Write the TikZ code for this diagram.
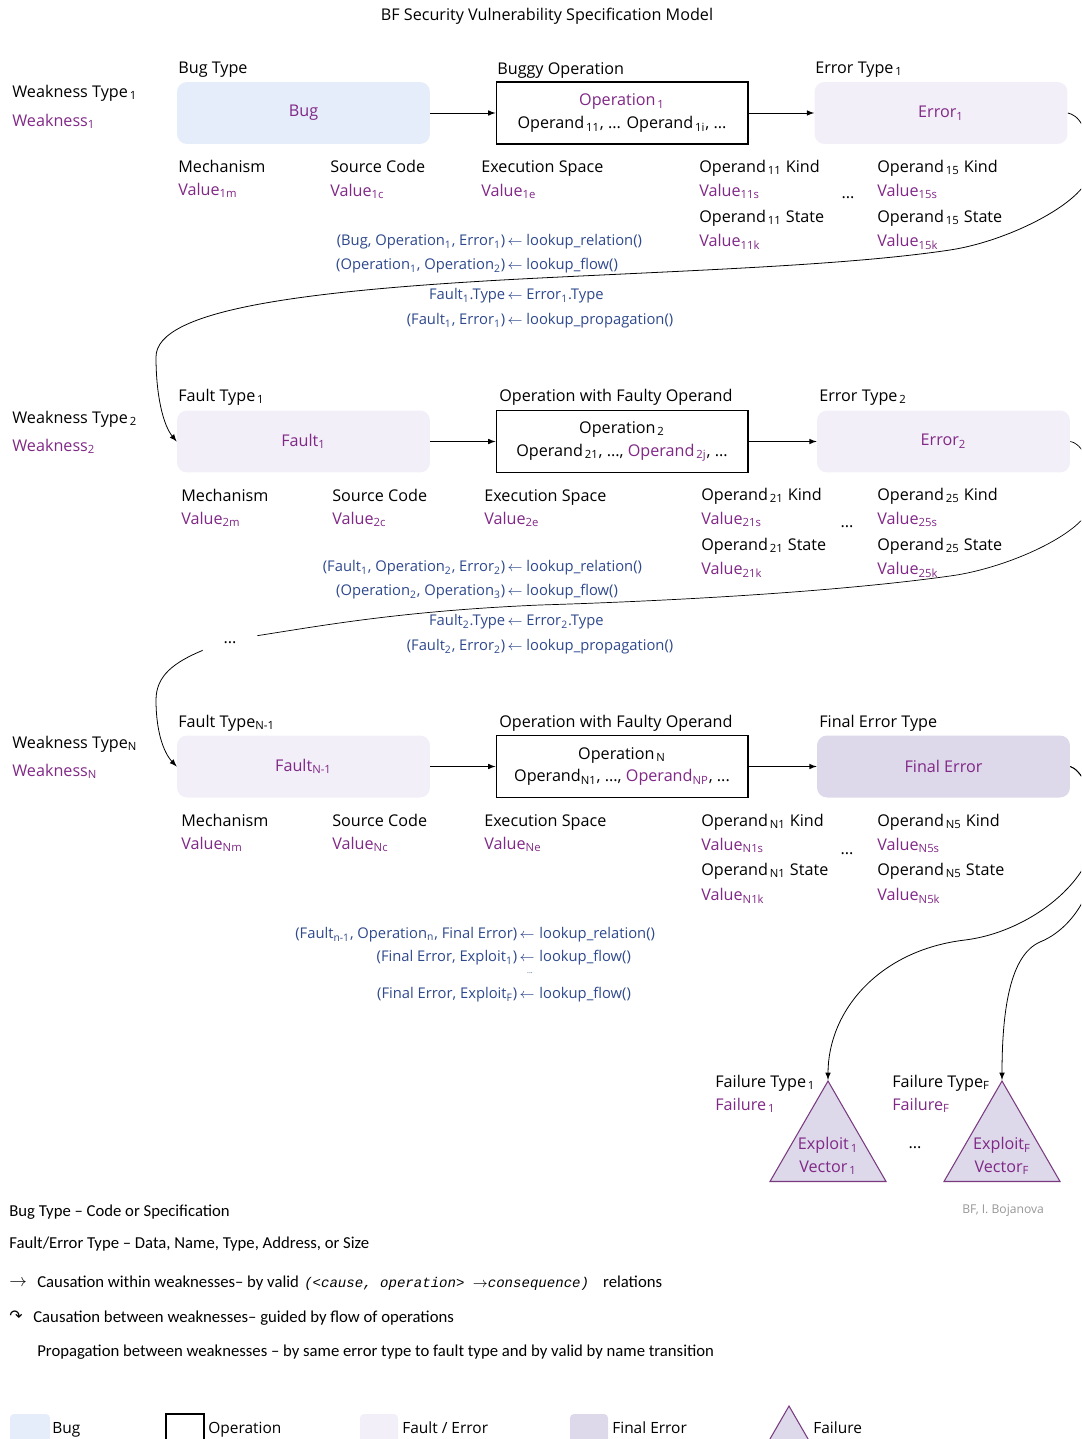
\documentclass[tikz,border=0pt]{standalone}
\usepackage{fontspec}
\setmainfont{Open Sans}
\newfontfamily\legendfont{Carlito}
\newfontfamily\symfont{DejaVu Sans}
\newfontfamily\codefont{Liberation Mono}
\usetikzlibrary{shapes.geometric}

\definecolor{wpurple}{RGB}{128,40,134}
\definecolor{relblue}{RGB}{46,72,140}
\definecolor{bugfill}{RGB}{229,236,250}
\definecolor{faultfill}{RGB}{242,239,248}
\definecolor{finalfill}{RGB}{221,216,234}
\definecolor{tripurple}{RGB}{122,58,128}
\definecolor{credit}{RGB}{150,150,150}

\tikzset{
  txt/.style={anchor=west,inner sep=0pt,text height=6.8pt,text depth=1pt,font=\fontsize{9.2}{11}\selectfont},
  val/.style={txt,text=wpurple},
  rel/.style={inner sep=0pt,text height=6.2pt,text depth=1pt,text=relblue,font=\fontsize{8.4}{10}\selectfont},
  bugbox/.style={rounded corners=0.2cm,fill=bugfill,minimum width=5.06cm,minimum height=1.24cm,
    text=wpurple,font=\fontsize{9.2}{11}\selectfont},
  faultbox/.style={bugbox,fill=faultfill},
  finalbox/.style={bugbox,fill=finalfill},
  opbox/.style={draw=black,line width=0.6pt,fill=white,minimum width=5.04cm,minimum height=1.24cm,
    align=center,font=\fontsize{9.2}{13}\selectfont},
  flow/.style={->,>=latex,line width=0.45pt},
  leg/.style={anchor=west,inner sep=0pt,text height=6.8pt,text depth=1pt,font=\legendfont\fontsize{9.5}{11}\selectfont},
  failtri/.style={regular polygon,regular polygon sides=3,draw=tripurple,line width=0.6pt,
    fill=finalfill,minimum size=2.68cm,inner sep=0pt},
}

\begin{document}
\begin{tikzpicture}[x=0.02cm,y=-0.02cm]
  \useasboundingbox (0,0) rectangle (1081,1439);
  \clip (0,0) rectangle (1081,1439);

  \node[txt,anchor=center] (title) at (547,15) {BF Security Vulnerability Specification Model};

  % weakness 1
  \node[txt] (wt1) at (12,92) {Weakness Type\textsubscript{\,1}};
  \node[val] (w1) at (12,121) {Weakness\textsubscript{1}};
  \node[txt] (bugtype) at (178,68) {Bug Type};
  \node[txt] (buggyop) at (497,69) {Buggy Operation};
  \node[txt] (errtype1) at (815,68) {Error Type\textsubscript{\,1}};
  \node[bugbox] (bug) at (303.5,113) {Bug};
  \node[opbox] (op1) at (622,113) {\textcolor{wpurple}{Operation\textsubscript{\,1}}\\Operand\textsubscript{\,11}, ... Operand\textsubscript{\,1i}, ...};
  \node[faultbox] (err1) at (941,113) {Error\textsubscript{1}};

  \node[txt] (mech1) at (178,167) {Mechanism};
  \node[val] (val1m) at (178,190) {Value\textsubscript{1m}};
  \node[txt] (src1) at (330,167) {Source Code};
  \node[val] (val1c) at (330,191) {Value\textsubscript{1c}};
  \node[txt] (exe1) at (481,167) {Execution Space};
  \node[val] (val1e) at (481,191) {Value\textsubscript{1e}};
  \node[txt] (kind11) at (699,167) {Operand\textsubscript{\,11} Kind};
  \node[val] (val11s) at (699,191) {Value\textsubscript{11s}};
  \node[txt] (state11) at (699,217) {Operand\textsubscript{\,11} State};
  \node[val] (val11k) at (699,241) {Value\textsubscript{11k}};
  \node[txt,anchor=center] (dots1) at (848,193) {...};
  \node[txt] (kind15) at (877,167) {Operand\textsubscript{\,15} Kind};
  \node[val] (val15s) at (877,191) {Value\textsubscript{15s}};
  \node[txt] (state15) at (877,217) {Operand\textsubscript{\,15} State};
  \node[val] (val15k) at (877,241) {Value\textsubscript{15k}};

  \node[rel,anchor=east] (r1a) at (523,241) {(Bug, Operation\textsubscript{1}, Error\textsubscript{1})\,$\leftarrow$};
  \node[rel,anchor=west] (r1b) at (526,241) {lookup\_relation()};
  \node[rel,anchor=east] (r2a) at (523,265) {(Operation\textsubscript{1}, Operation\textsubscript{2})\,$\leftarrow$};
  \node[rel,anchor=west] (r2b) at (526,265) {lookup\_flow()};
  \node[rel,anchor=east] (r3a) at (523,295) {Fault\textsubscript{1}.Type\,$\leftarrow$};
  \node[rel,anchor=west] (r3b) at (526,295) {Error\textsubscript{1}.Type};
  \node[rel,anchor=east] (r4a) at (523,320) {(Fault\textsubscript{1}, Error\textsubscript{1})\,$\leftarrow$};
  \node[rel,anchor=west] (r4b) at (526,320) {lookup\_propagation()};

  % weakness 2
  \node[txt] (wt2) at (12,418) {Weakness Type\textsubscript{\,2}};
  \node[val] (w2) at (12,446) {Weakness\textsubscript{2}};
  \node[txt] (faulttype1) at (178,396) {Fault Type\textsubscript{\,1}};
  \node[txt] (faultyop2) at (499,396) {Operation with Faulty Operand};
  \node[txt] (errtype2) at (819,396) {Error Type\textsubscript{\,2}};
  \node[faultbox] (fault1) at (303.5,441.5) {Fault\textsubscript{1}};
  \node[opbox] (op2) at (622,441.5) {Operation\textsubscript{\,2}\\Operand\textsubscript{\,21}, ..., \textcolor{wpurple}{Operand\textsubscript{\,2j}}, ...};
  \node[faultbox] (err2) at (943.5,441.5) {Error\textsubscript{2}};

  \node[txt] (mech2) at (181,496) {Mechanism};
  \node[val] (val2m) at (181,519) {Value\textsubscript{2m}};
  \node[txt] (src2) at (332,496) {Source Code};
  \node[val] (val2c) at (332,519) {Value\textsubscript{2c}};
  \node[txt] (exe2) at (484,496) {Execution Space};
  \node[val] (val2e) at (484,519) {Value\textsubscript{2e}};
  \node[txt] (kind21) at (701,495) {Operand\textsubscript{\,21} Kind};
  \node[val] (val21s) at (701,519) {Value\textsubscript{21s}};
  \node[txt] (state21) at (701,545) {Operand\textsubscript{\,21} State};
  \node[val] (val21k) at (701,569) {Value\textsubscript{21k}};
  \node[txt,anchor=center] (dots2) at (847,522) {...};
  \node[txt] (kind25) at (877,495) {Operand\textsubscript{\,25} Kind};
  \node[val] (val25s) at (877,519) {Value\textsubscript{25s}};
  \node[txt] (state25) at (877,545) {Operand\textsubscript{\,25} State};
  \node[val] (val25k) at (877,569) {Value\textsubscript{25k}};

  \node[rel,anchor=east] (r5a) at (523,567) {(Fault\textsubscript{1}, Operation\textsubscript{2}, Error\textsubscript{2})\,$\leftarrow$};
  \node[rel,anchor=west] (r5b) at (526,567) {lookup\_relation()};
  \node[rel,anchor=east] (r6a) at (523,591) {(Operation\textsubscript{2}, Operation\textsubscript{3})\,$\leftarrow$};
  \node[rel,anchor=west] (r6b) at (526,591) {lookup\_flow()};
  \node[rel,anchor=east] (r7a) at (523,621) {Fault\textsubscript{2}.Type\,$\leftarrow$};
  \node[rel,anchor=west] (r7b) at (526,621) {Error\textsubscript{2}.Type};
  \node[rel,anchor=east] (r8a) at (523,646) {(Fault\textsubscript{2}, Error\textsubscript{2})\,$\leftarrow$};
  \node[rel,anchor=west] (r8b) at (526,646) {lookup\_propagation()};

  \node[txt,anchor=center,minimum width=1.08cm,minimum height=0.28cm,text height=,text depth=] (dotsflow) at (230,643) {...};

  % weakness N
  \node[txt] (wtn) at (12,743) {Weakness Type\textsubscript{N}};
  \node[val] (wn) at (12,771) {Weakness\textsubscript{N}};
  \node[txt] (faulttypen) at (178,722) {Fault Type\textsubscript{N-1}};
  \node[txt] (faultyopn) at (499,722) {Operation with Faulty Operand};
  \node[txt] (finaltype) at (819,722) {Final Error Type};
  \node[faultbox] (faultn) at (303.5,766.5) {Fault\textsubscript{N-1}};
  \node[opbox] (opn) at (622,766.5) {Operation\textsubscript{\,N}\\Operand\textsubscript{N1}, ..., \textcolor{wpurple}{Operand\textsubscript{NP}}, ...};
  \node[finalbox] (ferr) at (943.5,766.5) {Final Error};

  \node[txt] (mechn) at (181,821) {Mechanism};
  \node[val] (valnm) at (181,844) {Value\textsubscript{Nm}};
  \node[txt] (srcn) at (332,821) {Source Code};
  \node[val] (valnc) at (332,844) {Value\textsubscript{Nc}};
  \node[txt] (exen) at (484,821) {Execution Space};
  \node[val] (valne) at (484,844) {Value\textsubscript{Ne}};
  \node[txt] (kindn1) at (701,821) {Operand\textsubscript{\,N1} Kind};
  \node[val] (valn1s) at (701,845) {Value\textsubscript{N1s}};
  \node[txt] (staten1) at (701,870) {Operand\textsubscript{\,N1} State};
  \node[val] (valn1k) at (701,895) {Value\textsubscript{N1k}};
  \node[txt,anchor=center] (dotsn) at (847,849) {...};
  \node[txt] (kindn5) at (877,821) {Operand\textsubscript{\,N5} Kind};
  \node[val] (valn5s) at (877,845) {Value\textsubscript{N5s}};
  \node[txt] (staten5) at (877,870) {Operand\textsubscript{\,N5} State};
  \node[val] (valn5k) at (877,895) {Value\textsubscript{N5k}};

  \node[rel,anchor=east] (r9a) at (535,934) {(Fault\textsubscript{n-1}, Operation\textsubscript{n}, Final Error)\,$\leftarrow$};
  \node[rel,anchor=west] (r9b) at (539,934) {lookup\_relation()};
  \node[rel,anchor=east] (r10a) at (535,957) {(Final Error, Exploit\textsubscript{1})\,$\leftarrow$};
  \node[rel,anchor=west] (r10b) at (539,957) {lookup\_flow()};
  \node[rel,anchor=center,text height=,text depth=,font=\fontsize{4}{5}\selectfont] (r11) at (530,973) {...};
  \node[rel,anchor=east] (r12a) at (535,994) {(Final Error, Exploit\textsubscript{F})\,$\leftarrow$};
  \node[rel,anchor=west] (r12b) at (539,994) {lookup\_flow()};

  % failures
  \node[failtri] (tri1) at (828,1148) {};
  \node[failtri] (trif) at (1002,1148) {};
  \node[val,anchor=center,align=center,text height=,text depth=,font=\fontsize{9.2}{13}\selectfont] (expl1) at (828,1156) {Exploit\textsubscript{\,1}\\Vector\textsubscript{\,1}};
  \node[val,anchor=center,align=center,text height=,text depth=,font=\fontsize{9.2}{13}\selectfont] (explf) at (1002,1156) {Exploit\textsubscript{F}\\Vector\textsubscript{F}};
  \node[txt] (failtype1) at (715,1082) {Failure Type\textsubscript{\,1}};
  \node[val] (fail1) at (715,1105) {Failure\textsubscript{\,1}};
  \node[txt] (failtypef) at (892,1082) {Failure Type\textsubscript{F}};
  \node[val] (failf) at (892,1105) {Failure\textsubscript{F}};
  \node[txt,anchor=center] (dotsf) at (915,1143) {...};
  \node[txt,text=credit,font=\fontsize{6.9}{8}\selectfont] (credit) at (962,1208) {BF, I. Bojanova};

  % connectors
  \draw[flow] (bug) -- (op1);
  \draw[flow] (op1) -- (err1);
  \draw[flow] (fault1) -- (op2);
  \draw[flow] (op2) -- (err2);
  \draw[flow] (faultn) -- (opn);
  \draw[flow] (opn) -- (ferr);

  \draw[flow] (err1.east) .. controls (1077,115) and (1090,125) .. (1090,170)
    .. controls (1090,200) and (1010,241) .. (950,250)
    .. controls (850,265) and (700,270) .. (540,278)
    .. controls (300,290) and (156,310) .. (156,357)
    .. controls (156,395) and (163,425) .. (fault1.west);
  \draw (err2.east) .. controls (1079,443) and (1092,455) .. (1092,500)
    .. controls (1092,530) and (1010,568) .. (950,576)
    .. controls (850,590) and (700,600) .. (540,605)
    .. controls (400,611) and (320,626) .. (dotsflow.north east);
  \draw[flow] (dotsflow.south west) .. controls (175,662) and (156,675) .. (156,700)
    .. controls (156,730) and (163,752) .. (faultn.west);

  \draw[flow] (ferr.east) .. controls (1079,769) and (1095,790) .. (1095,830)
    .. controls (1095,880) and (1030,932) .. (965,940)
    .. controls (880,950) and (828,1010) .. (tri1.corner 1);
  \draw[flow] (ferr.east) .. controls (1079,769) and (1097,790) .. (1097,840)
    .. controls (1097,900) and (1065,932) .. (1040,942)
    .. controls (1010,955) and (1002,1010) .. (trif.corner 1);

  % legend
  \node[leg] (lg1) at (9,1211) {Bug Type – Code or Specification};
  \node[leg] (lg2) at (9,1243) {Fault/Error Type – Data, Name, Type, Address, or Size};
  \node[leg,font=\fontsize{10}{11}\selectfont] (lgarrow) at (9,1281) {$\rightarrow$};
  \node[leg] (lg3) at (37,1282) {Causation within weaknesses– by valid\hspace{3pt}{\codefont\itshape\fontsize{8}{9}\selectfont (<cause, operation> $\rightarrow$consequence)}\hspace{8pt}relations};
  \node[leg,font=\symfont\fontsize{9}{10}\selectfont] (lgcurve) at (9,1316) {↷};
  \node[leg] (lg4) at (33,1317) {Causation between weaknesses– guided by flow of operations};
  \node[leg] (lg5) at (37,1351) {Propagation between weaknesses – by same error type to fault type and by valid by name transition};

  \node[bugbox,minimum width=0.8cm,minimum height=0.8cm,rounded corners=0.08cm] (keybug) at (30,1434) {};
  \node[txt,font=\fontsize{8.8}{10}\selectfont] (keybugt) at (52,1428) {Bug};
  \node[draw=black,line width=0.6pt,minimum width=0.76cm,minimum height=0.8cm] (keyop) at (185,1434) {};
  \node[txt,font=\fontsize{8.8}{10}\selectfont] (keyopt) at (208,1428) {Operation};
  \node[faultbox,minimum width=0.76cm,minimum height=0.8cm,rounded corners=0.08cm] (keyfault) at (379,1434) {};
  \node[txt,font=\fontsize{8.8}{10}\selectfont] (keyfaultt) at (402,1428) {Fault / Error};
  \node[finalbox,minimum width=0.76cm,minimum height=0.8cm,rounded corners=0.08cm] (keyfinal) at (589,1434) {};
  \node[txt,font=\fontsize{8.8}{10}\selectfont] (keyfinalt) at (612,1428) {Final Error};
  \node[failtri,minimum size=1.4cm] (keytri) at (789,1441) {};
  \node[txt,font=\fontsize{8.8}{10}\selectfont] (keytrit) at (813,1428) {Failure};
\end{tikzpicture}
\end{document}
